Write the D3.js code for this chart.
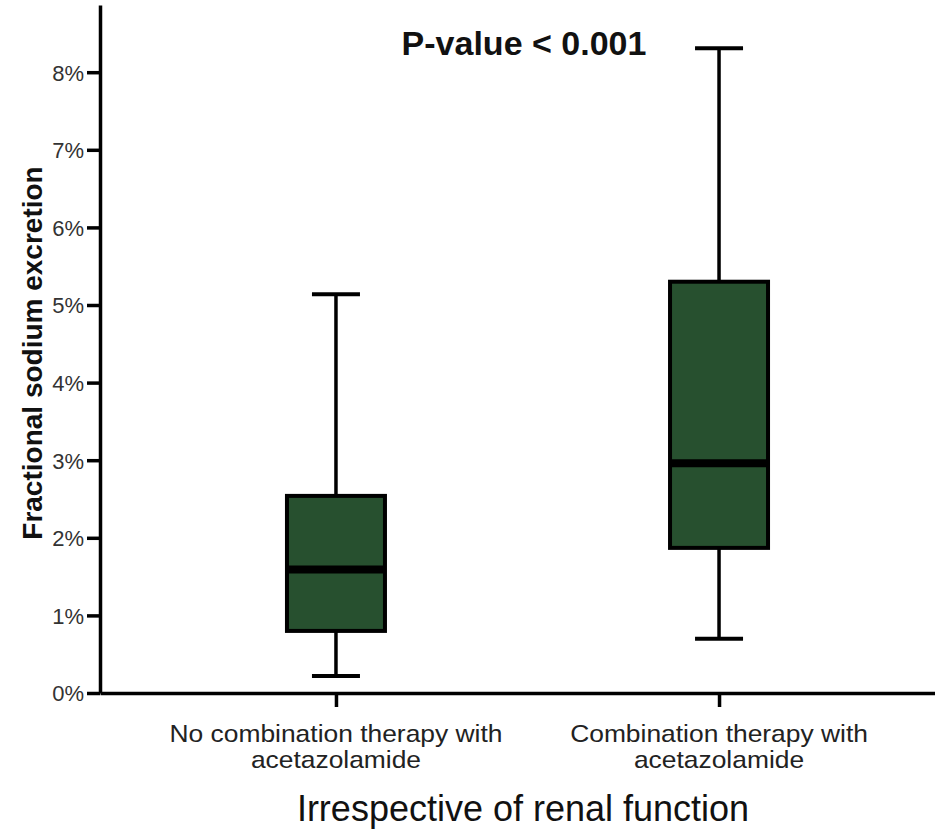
<!DOCTYPE html>
<html>
<head>
<meta charset="utf-8">
<script src="https://cdn.jsdelivr.net/npm/d3@7"></script>
<style>
  body { margin: 0; background: #fff; }
  text { font-family: "Liberation Sans", Arial, sans-serif; }
</style>
</head>
<body>
<script>
// Box plot data (fractional sodium excretion, %)
const groups = ["No combination therapy with|acetazolamide", "Combination therapy with|acetazolamide"];
const whiskerLow = [0.22, 0.70];
const q1 = [0.80, 1.87];
const median = [1.59, 2.96];
const q3 = [2.54, 5.30];
const whiskerHigh = [5.14, 8.31];
const yTicks = [0, 1, 2, 3, 4, 5, 6, 7, 8];

const margin = { top: 5, left: 100 };
const plotW = 855, plotH = 688;

const svg = d3.select("body")
    .append("svg")
    .attr("width", 935)
    .attr("height", 832);

const g = svg.append("g")
    .attr("transform", `translate(${margin.left},${margin.top})`);

const x = d3.scalePoint()
    .domain(groups)
    .range([0, plotW])
    .padding(0.616);

const y = d3.scaleLinear()
    .domain([0, 8.866])
    .range([plotH, 0]);

const boxW = 98, capW = 48;

// Boxes
const box = g.selectAll(".box")
    .data(groups)
    .enter()
    .append("g")
    .attr("transform", d => `translate(${x(d)},0)`);

// whisker line
box.append("line")
    .attr("y1", (d, i) => y(whiskerLow[i]))
    .attr("y2", (d, i) => y(whiskerHigh[i]))
    .attr("stroke", "#000")
    .attr("stroke-width", 3.5);

// caps
box.append("line")
    .attr("x1", -capW / 2).attr("x2", capW / 2)
    .attr("y1", (d, i) => y(whiskerHigh[i]))
    .attr("y2", (d, i) => y(whiskerHigh[i]))
    .attr("stroke", "#000")
    .attr("stroke-width", 4);
box.append("line")
    .attr("x1", -capW / 2).attr("x2", capW / 2)
    .attr("y1", (d, i) => y(whiskerLow[i]))
    .attr("y2", (d, i) => y(whiskerLow[i]))
    .attr("stroke", "#000")
    .attr("stroke-width", 4);

box.append("rect")
    .attr("x", -boxW / 2)
    .attr("width", boxW)
    .attr("y", (d, i) => y(q3[i]))
    .attr("height", (d, i) => y(q1[i]) - y(q3[i]))
    .attr("fill", "#27502f")
    .attr("stroke", "#000")
    .attr("stroke-width", 4);

box.append("line")
    .attr("x1", -boxW / 2).attr("x2", boxW / 2)
    .attr("y1", (d, i) => y(median[i]))
    .attr("y2", (d, i) => y(median[i]))
    .attr("stroke", "#000")
    .attr("stroke-width", 8);

// Y axis
const yAxis = g.append("g")
    .call(d3.axisLeft(y).tickValues(yTicks).tickFormat(d => d + "%").tickSize(13).tickSizeOuter(0));
yAxis.select(".domain").attr("stroke-width", 3.5);
yAxis.selectAll(".tick line").attr("stroke-width", 3.5);
yAxis.selectAll(".tick text")
    .attr("x", -16)
    .attr("dy", "0.36em")
    .attr("font-size", 22)
    .attr("fill", "#333");

// X axis
const xAxis = g.append("g")
    .attr("transform", `translate(0,${plotH})`)
    .call(d3.axisBottom(x).tickSize(14).tickSizeOuter(0).tickFormat(""));
xAxis.select(".domain").attr("stroke-width", 3.5);
xAxis.selectAll(".tick line").attr("stroke-width", 3.5);

// category labels (two lines)
g.selectAll(".cat")
    .data(groups)
    .enter()
    .append("text")
    .attr("text-anchor", "middle")
    .attr("font-size", 24)
    .attr("fill", "#222")
    .attr("transform", d => `translate(${x(d)},${plotH + 49}) scale(1.1,1)`)
    .each(function (d) {
        d.split("|").forEach((part, k) => {
            d3.select(this).append("tspan")
                .attr("x", 0)
                .attr("dy", k === 0 ? 0 : 26)
                .text(part);
        });
    });

// axis titles
svg.append("text")
    .attr("x", 523)
    .attr("y", 821)
    .attr("text-anchor", "middle")
    .attr("font-size", 36)
    .attr("fill", "#111")
    .text("Irrespective of renal function");

svg.append("text")
    .attr("transform", "translate(42,353) rotate(-90)")
    .attr("text-anchor", "middle")
    .attr("font-size", 28)
    .attr("font-weight", "bold")
    .attr("fill", "#111")
    .text("Fractional sodium excretion");

svg.append("text")
    .attr("x", 524)
    .attr("y", 55)
    .attr("text-anchor", "middle")
    .attr("font-size", 34)
    .attr("font-weight", "bold")
    .attr("fill", "#111")
    .text("P-value < 0.001");
</script>
</body>
</html>
